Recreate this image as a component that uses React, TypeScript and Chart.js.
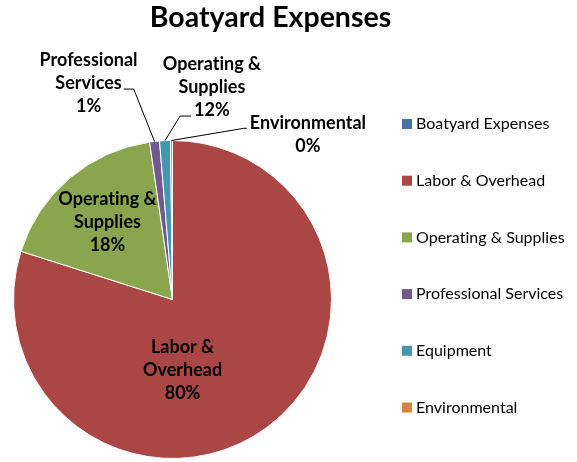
import React, { useEffect, useRef } from "react";
import { Chart, registerables } from "chart.js";

Chart.register(...registerables);

const TITLE = "Boatyard Expenses";
const categories = [
  "Boatyard Expenses",
  "Labor & Overhead",
  "Operating & Supplies",
  "Professional Services",
  "Equipment",
  "Environmental",
];
const values = [0, 79.9, 17.8, 1.0, 1.1, 0.2];
const colors = ["#4572A7", "#AA4643", "#89A54E", "#71588F", "#4198AF", "#DB843D"];
const sliceLabels: (string[] | null)[] = [
  null,
  ["Labor &", "Overhead", "80%"],
  ["Operating &", "Supplies", "18%"],
  ["Professional", "Services", "1%"],
  ["Operating &", "Supplies", "12%"],
  ["Environmental", "0%"],
];

// label placement (fractions of the pie radius, relative to the pie centre)
type Layout = { dx: number; dy: number; leader?: { line: number; side: "left" | "right"; elbow: number } } | null;
const LABEL_LAYOUT: Layout[] = [
  null,
  { dx: 0.063, dy: 0.447 },
  { dx: -0.409, dy: -0.486 },
  { dx: -0.528, dy: -1.358, leader: { line: 1, side: "right", elbow: 10 } },
  { dx: 0.248, dy: -1.333, leader: { line: 2, side: "left", elbow: 11 } },
  { dx: 0.852, dy: -1.039, leader: { line: 0, side: "left", elbow: 3 } },
];

const FONT = "Lato, 'Liberation Sans', sans-serif";
const LABEL_SIZE = 18;
const LINE_H = 23;

const overlayPlugin = {
  id: "overlay",
  afterDraw(chart: any) {
    const ctx: any = chart.ctx;
    ctx.save();
    try {
      ctx.letterSpacing = "0.01px";
    } catch (e) {}
    // title
    ctx.fillStyle = "#000";
    ctx.font = `bold 28.5px ${FONT}`;
    ctx.textAlign = "center";
    ctx.textBaseline = "alphabetic";
    ctx.fillText(TITLE, 270.5, 27);

    // legend
    const labels: string[] = chart.data.labels;
    const bg: string[] = chart.data.datasets[0].backgroundColor;
    ctx.font = `16px ${FONT}`;
    ctx.textAlign = "left";
    ctx.textBaseline = "middle";
    labels.forEach((l, i) => {
      const y = 124 + i * 56.7;
      ctx.fillStyle = bg[i];
      ctx.fillRect(402, y - 5, 10, 10);
      ctx.fillStyle = "#000";
      ctx.fillText(l, 416, y);
    });

    // data labels
    const meta = chart.getDatasetMeta(0);
    ctx.font = `bold ${LABEL_SIZE}px ${FONT}`;
    ctx.textAlign = "center";
    ctx.textBaseline = "middle";
    meta.data.forEach((arc: any, i: number) => {
      const lines = sliceLabels[i];
      const lay = LABEL_LAYOUT[i];
      if (!lines || !lay) return;
      const r = arc.outerRadius;
      const cx = arc.x + lay.dx * r;
      const cy = arc.y + lay.dy * r;
      const top = cy - ((lines.length - 1) * LINE_H) / 2;
      ctx.fillStyle = "#000";
      lines.forEach((t, k) => ctx.fillText(t, cx, top + k * LINE_H));
      if (lay.leader) {
        const ld = lay.leader;
        const w = ctx.measureText(lines[ld.line]).width;
        const ly = top + ld.line * LINE_H + 5.5;
        const sx = ld.side === "right" ? cx + w / 2 + 2 : cx - w / 2 - 3;
        const ex = ld.side === "right" ? sx + ld.elbow : sx - ld.elbow;
        const mid = (arc.startAngle + arc.endAngle) / 2;
        const px = arc.x + Math.cos(mid) * r;
        const py = arc.y + Math.sin(mid) * r;
        ctx.strokeStyle = "#000";
        ctx.lineWidth = 1;
        ctx.beginPath();
        ctx.moveTo(sx, ly);
        ctx.lineTo(ex, ly);
        ctx.lineTo(px, py);
        ctx.stroke();
      }
    });
    ctx.restore();
  },
};

export default function App() {
  const ref = useRef<HTMLCanvasElement>(null);
  useEffect(() => {
    const chart = new Chart(ref.current as HTMLCanvasElement, {
      type: "pie",
      data: {
        labels: categories,
        datasets: [
          {
            data: values,
            backgroundColor: colors,
            borderColor: "#ffffff",
            borderWidth: values.map((v) => (v === 0 ? 0 : 1)),
          },
        ],
      },
      options: {
        responsive: false,
        animation: false,
        devicePixelRatio: 1,
        events: [],
        layout: { padding: { left: 13, right: 245, top: 140, bottom: 3 } },
        plugins: {
          legend: { display: false },
          tooltip: { enabled: false },
          title: { display: false },
        },
      },
      plugins: [overlayPlugin],
    } as any);
    return () => chart.destroy();
  }, []);
  return (
    <div style={{ position: "fixed", left: 0, top: 0, width: 577, height: 462, background: "#fff" }}>
      <canvas ref={ref} width={577} height={462} style={{ display: "block" }} />
    </div>
  );
}
